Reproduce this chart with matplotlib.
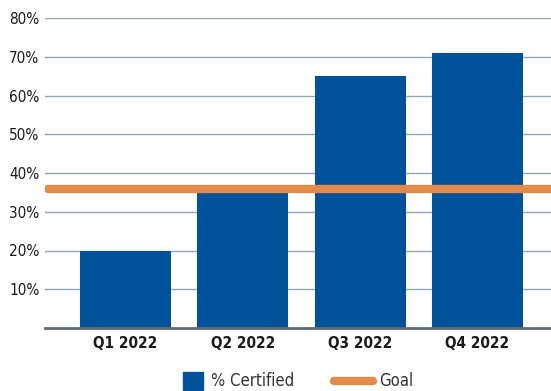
import matplotlib.pyplot as plt
from matplotlib.lines import Line2D
from matplotlib.patches import Rectangle

quarters = ["Q1 2022", "Q2 2022", "Q3 2022", "Q4 2022"]
certified = [20, 35, 65, 71]
goal = 36
yticks = [10, 20, 30, 40, 50, 60, 70, 80]

blue = "#00529b"
orange = "#e3894a"
grid = "#93a6ae"

plt.rcParams['font.family'] = ['DejaVu Sans']
plt.rcParams['font.stretch'] = 'condensed'

fig = plt.figure(figsize=(5.51, 3.91), dpi=100)
ax = fig.add_axes([45 / 551, 63 / 391, 506 / 551, 310 / 391])

x = range(len(quarters))
ax.bar(x, certified, width=0.776, color=blue, zorder=2)
ax.axhline(goal, xmin=0.006, xmax=1, color=orange, lw=6, solid_capstyle='round', zorder=3)

ax.set_xlim(-0.686, 3.627)
ax.set_ylim(0, 80)
ax.set_yticks(yticks)
ax.set_yticklabels([f"{v}%" for v in yticks], fontweight='medium')
ax.set_xticks(list(x))
ax.set_xticklabels(quarters, fontweight='bold')
ax.tick_params(axis='both', length=0, labelsize=11, colors='#1a1a1a')
ax.tick_params(axis='y', pad=4)
ax.tick_params(axis='x', pad=6)
ax.grid(axis='y', color=grid, lw=1.0, zorder=0)
for s in ['top', 'right', 'left']:
    ax.spines[s].set_visible(False)
ax.spines['bottom'].set_color('#5f6b72')
ax.spines['bottom'].set_linewidth(2)
ax.spines['bottom'].set_zorder(4)

# legend drawn by hand in figure pixels
W, H = 551, 391
fig.add_artist(Rectangle((183 / W, (391 - 390) / H), 20 / W, 18 / H,
                         color=blue, transform=fig.transFigure))
fig.text(211 / W, (391 - 381) / H, "% Certified", fontsize=12, color='#333333',
         va='center', ha='left')
fig.add_artist(Line2D([334 / W, 373 / W], [(391 - 381) / H] * 2, color=orange, lw=6,
                      solid_capstyle='round', transform=fig.transFigure))
fig.text(379 / W, (391 - 381) / H, "Goal", fontsize=12, color='#333333',
         va='center', ha='left')

plt.savefig('out.png')
